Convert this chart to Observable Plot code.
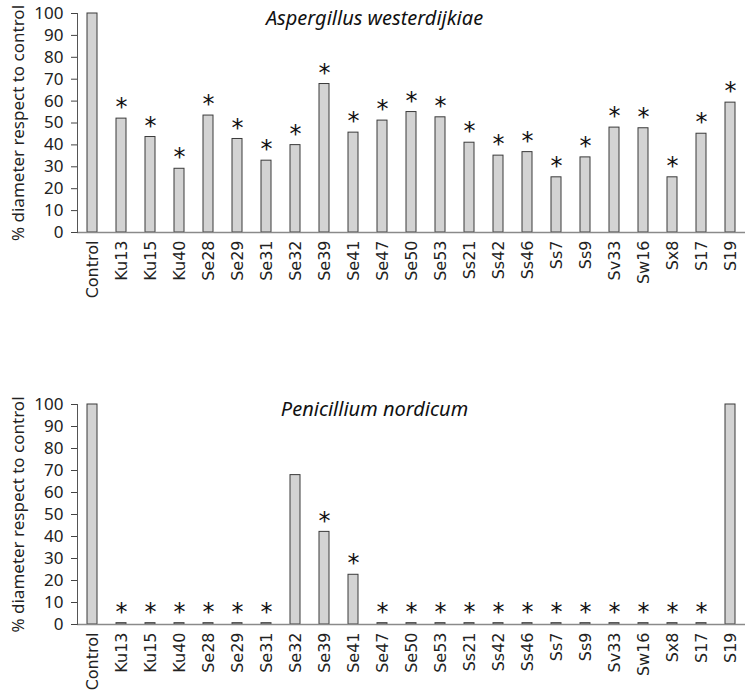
<!DOCTYPE html>
<html>
<head>
<meta charset="utf-8">
<script src="https://cdn.jsdelivr.net/npm/d3@7"></script>
<script src="https://cdn.jsdelivr.net/npm/@observablehq/plot@0.6"></script>
<style>
  html, body { margin: 0; padding: 0; background: #fff; }
  svg { display: block; }
</style>
</head>
<body>
<div id="top"></div>
<div id="bottom"></div>
<script>
const categories = ["Control","Ku13","Ku15","Ku40","Se28","Se29","Se31","Se32","Se39","Se41","Se47","Se50","Se53","Ss21","Ss42","Ss46","Ss7","Ss9","Sv33","Sw16","Sx8","S17","S19"];

const aspergillusValues = [100, 52.0, 43.6, 29.1, 53.4, 42.7, 32.8, 39.9, 67.8, 45.6, 51.1, 55.0, 52.6, 41.0, 35.1, 36.7, 25.2, 34.3, 47.9, 47.6, 25.2, 45.1, 59.3];
const aspergillusSignificant = [false, true, true, true, true, true, true, true, true, true, true, true, true, true, true, true, true, true, true, true, true, true, true];

const penicilliumValues = [100, 0.6, 0.6, 0.6, 0.6, 0.6, 0.6, 67.9, 42.1, 22.6, 0.6, 0.6, 0.6, 0.6, 0.6, 0.6, 0.6, 0.6, 0.6, 0.6, 0.6, 0.6, 100];
const penicilliumSignificant = [false, true, true, true, true, true, true, false, true, true, true, true, true, true, true, true, true, true, true, true, true, true, false];

const yTicks = [0, 10, 20, 30, 40, 50, 60, 70, 80, 90, 100];
const yLabel = "% diameter respect to control";

function chart(values, sig, title, opts) {
  const data = categories.map((c, i) => ({cat: c, v: values[i], sig: sig[i]}));
  return Plot.plot({
    width: 755,
    height: opts.height,
    marginLeft: 77,
    marginRight: 10,
    marginTop: opts.marginTop,
    marginBottom: opts.marginBottom,
    style: {fontFamily: "Noto Sans", fontSize: "17px", color: "#222", background: "#fff", overflow: "visible"},
    x: {domain: categories, paddingInner: 0.65, paddingOuter: 0.31},
    y: {domain: [0, 100]},
    marks: [
      Plot.barY(data, {x: "cat", y: "v", fill: "#d3d3d3", stroke: "#3a3a3a", strokeWidth: 1}),
      Plot.ruleY([0], {stroke: "#8a8a8a", strokeWidth: 1.5}),
      Plot.frame({anchor: "left", stroke: "#555"}),
      Plot.text(data.filter(d => d.sig), {x: "cat", y: "v", text: () => "*", dy: -11, fontSize: 24, fontFamily: "DejaVu Sans", fill: "#111"}),
      Plot.text([title], {frameAnchor: "top", dx: -37, dy: -3, lineAnchor: "top", fontStyle: "italic", fontSize: 20, fill: "#111"}),
      Plot.text([yLabel], {frameAnchor: "left", textAnchor: "middle", lineAnchor: "middle", rotate: -90, dx: -59, fontSize: 17, fill: "#222"}),
      Plot.axisY({ticks: yTicks, tickSize: 6, tickPadding: 8, fontSize: 17, label: null, stroke: "#444"}),
      Plot.axisX({tickRotate: -90, tickSize: 0, tickPadding: 8, fontSize: 16, fontFamily: "DejaVu Sans", label: null})
    ]
  });
}

document.getElementById("top").append(
  chart(aspergillusValues, aspergillusSignificant, "Aspergillus westerdijkiae", {height: 348, marginTop: 13, marginBottom: 116})
);
document.getElementById("bottom").append(
  chart(penicilliumValues, penicilliumSignificant, "Penicillium nordicum", {height: 349, marginTop: 56, marginBottom: 73})
);
</script>
</body>
</html>
